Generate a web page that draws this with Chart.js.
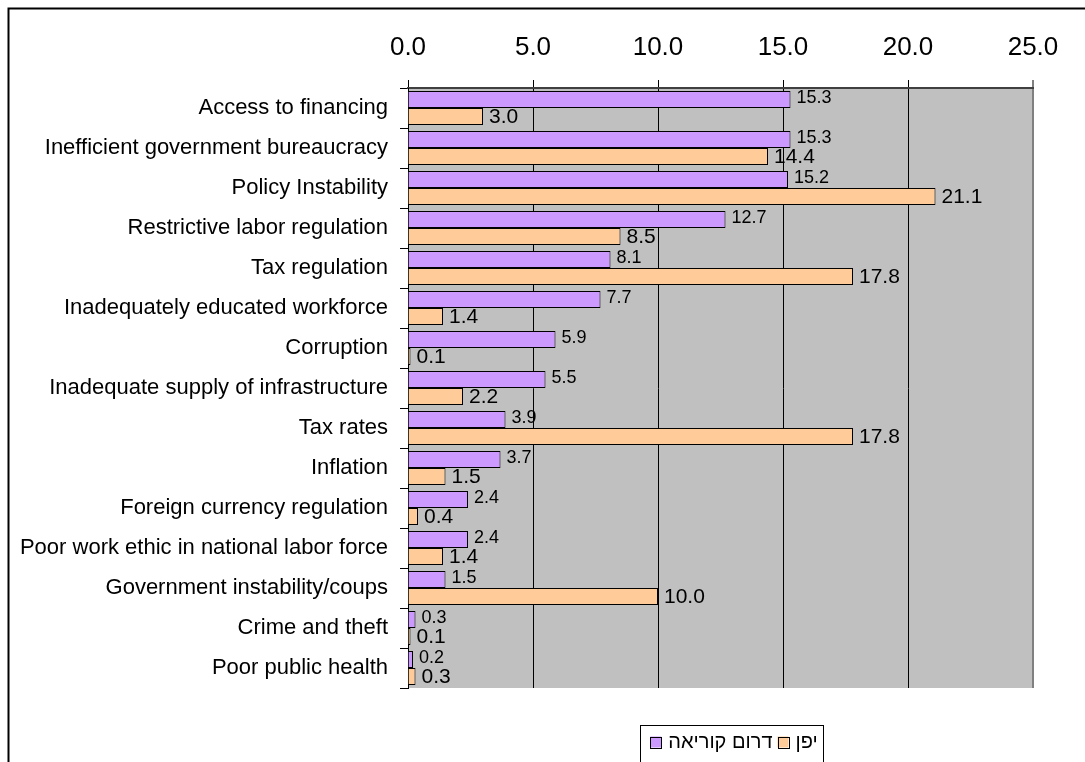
<!DOCTYPE html>
<html>
<head>
<meta charset="utf-8">
<script src="https://cdn.jsdelivr.net/npm/chart.js@4/dist/chart.umd.min.js"></script>
<style>
  html, body { margin: 0; padding: 0; background: #fff; }
  #c { display: block; }
</style>
</head>
<body>
<canvas id="c" width="1085" height="762"></canvas>
<script>
const categories = [
  "Access to financing",
  "Inefficient government bureaucracy",
  "Policy Instability",
  "Restrictive labor regulation",
  "Tax regulation",
  "Inadequately educated workforce",
  "Corruption",
  "Inadequate supply of infrastructure",
  "Tax rates",
  "Inflation",
  "Foreign currency regulation",
  "Poor work ethic in national labor force",
  "Government instability/coups",
  "Crime and theft",
  "Poor public health"
];
const seriesNames = ["דרום קוריאה", "יפן"];
const koreaValues = [15.3, 15.3, 15.2, 12.7, 8.1, 7.7, 5.9, 5.5, 3.9, 3.7, 2.4, 2.4, 1.5, 0.3, 0.2];
const japanValues = [3.0, 14.4, 21.1, 8.5, 17.8, 1.4, 0.1, 2.2, 17.8, 1.5, 0.4, 1.4, 10.0, 0.1, 0.3];
const xTicks = [0, 5, 10, 15, 20, 25];

const FONT = "'Liberation Sans', Arial, sans-serif";

const bgPlugin = {
  id: 'bg',
  beforeDraw(chart) {
    const ctx = chart.ctx, a = chart.chartArea;
    ctx.save();
    ctx.fillStyle = '#fff';
    ctx.fillRect(0, 0, chart.width, chart.height);
    ctx.fillStyle = '#C0C0C0';
    ctx.fillRect(a.left, a.top, a.right - a.left, a.bottom - a.top);
    ctx.strokeStyle = '#000';
    ctx.lineWidth = 2;
    ctx.strokeRect(8.5, 8.5, chart.width + 50, chart.height + 50);
    ctx.restore();
  }
};

const labelPlugin = {
  id: 'vals',
  afterDatasetsDraw(chart) {
    const ctx = chart.ctx;
    ctx.save();
    ctx.fillStyle = '#000';
    ctx.textAlign = 'left';
    ctx.textBaseline = 'middle';
    chart.data.datasets.forEach((ds, di) => {
      const meta = chart.getDatasetMeta(di);
      const size = di === 0 ? 18 : 21;
      ctx.font = size + 'px ' + FONT;
      meta.data.forEach((bar, i) => {
        const v = ds.data[i];
        const dy = di === 0 ? -1 : 1;
        ctx.fillText(v.toFixed(1), bar.x + 6, bar.y + dy);
      });
    });
    ctx.restore();
  }
};

const legendPlugin = {
  id: 'customLegend',
  afterDraw(chart) {
    const ctx = chart.ctx;
    ctx.save();
    ctx.font = '20px ' + FONT;
    const box = 11, gapBT = 7, gapItems = 5;
    const items = chart.data.datasets.map(d => ({ label: d.label, color: d.backgroundColor, w: ctx.measureText(d.label).width }));
    let total = 0;
    items.forEach((it, i) => { total += box + gapBT + it.w + (i < items.length - 1 ? gapItems : 0); });
    const cx = 734, cy = 742;
    let x = cx - total / 2;
    ctx.strokeStyle = '#000';
    ctx.lineWidth = 1;
    ctx.strokeRect(Math.round(x - 10) + 0.5, 725.5, Math.round(total + 16), 60);
    ctx.textBaseline = 'middle';
    ctx.textAlign = 'left';
    items.forEach(it => {
      ctx.fillStyle = it.color;
      ctx.fillRect(x, cy - box / 2, box, box);
      ctx.strokeStyle = '#000';
      ctx.strokeRect(Math.round(x) + 0.5, Math.round(cy - box / 2) + 0.5, box, box);
      x += box + gapBT;
      ctx.fillStyle = '#000';
      ctx.fillText(it.label, x, cy);
      x += it.w + gapItems;
    });
    ctx.restore();
  }
};

new Chart(document.getElementById('c'), {
  type: 'bar',
  data: {
    labels: categories,
    datasets: [
      { label: seriesNames[0], data: koreaValues, backgroundColor: '#CC99FF', borderColor: '#000', borderWidth: 1, categoryPercentage: 0.85, barPercentage: 1.0 },
      { label: seriesNames[1], data: japanValues, backgroundColor: '#FFCC99', borderColor: '#000', borderWidth: 1, categoryPercentage: 0.85, barPercentage: 1.0 }
    ]
  },
  options: {
    indexAxis: 'y',
    responsive: false,
    animation: false,
    devicePixelRatio: 1,
    layout: { padding: { left: 0, top: 0, right: 52, bottom: 74 } },
    plugins: { legend: { display: false }, tooltip: { enabled: false } },
    scales: {
      x: {
        position: 'top',
        min: xTicks[0],
        max: xTicks[xTicks.length - 1],
        afterBuildTicks(scale) { scale.ticks = xTicks.map(v => ({ value: v })); },
        ticks: {
          callback: v => Number(v).toFixed(1),
          color: '#000',
          font: { family: FONT, size: 26 },
          padding: 17,
          maxRotation: 0
        },
        grid: {
          color: ctx => (ctx.tick && ctx.tick.value === 25) ? '#808080' : '#000',
          lineWidth: ctx => (ctx.tick && ctx.tick.value === 25) ? 2 : 1,
          tickLength: 8,
          drawTicks: true
        },
        border: { color: '#404040', width: 2 },
        afterFit(scale) { scale.height = 88; }
      },
      y: {
        ticks: {
          color: '#000',
          font: { family: FONT, size: 22 },
          padding: 12,
          autoSkip: false
        },
        grid: { offset: true, drawOnChartArea: false, color: '#000', tickLength: 8 },
        border: { color: '#000', width: 1 },
        afterFit(scale) { scale.width = 408; }
      }
    }
  },
  plugins: [bgPlugin, labelPlugin, legendPlugin]
});
</script>
</body>
</html>
